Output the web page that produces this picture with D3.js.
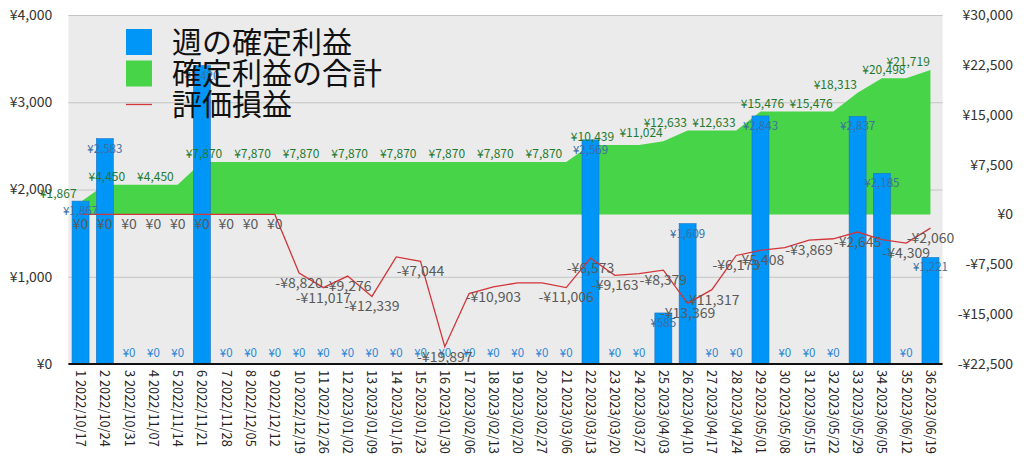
<!DOCTYPE html>
<html><head><meta charset="utf-8">
<script src="https://cdn.jsdelivr.net/npm/d3@7/dist/d3.min.js"></script>
<style>
html,body{margin:0;padding:0;background:#fff;}
text{font-family:"Noto Sans CJK JP","Noto Sans",sans-serif;}
</style></head>
<body><svg id="chart" width="1024" height="476"></svg>
<script>
const weeks = ["1 2022/10/17","2 2022/10/24","3 2022/10/31","4 2022/11/07","5 2022/11/14","6 2022/11/21","7 2022/11/28","8 2022/12/05","9 2022/12/12","10 2022/12/19","11 2022/12/26","12 2023/01/02","13 2023/01/09","14 2023/01/16","15 2023/01/23","16 2023/01/30","17 2023/02/06","18 2023/02/13","19 2023/02/20","20 2023/02/27","21 2023/03/06","22 2023/03/13","23 2023/03/20","24 2023/03/27","25 2023/04/03","26 2023/04/10","27 2023/04/17","28 2023/04/24","29 2023/05/01","30 2023/05/08","31 2023/05/15","32 2023/05/22","33 2023/05/29","34 2023/06/05","35 2023/06/12","36 2023/06/19"];
const weeklyProfit = [1867,2583,0,0,0,3420,0,0,0,0,0,0,0,0,0,0,0,0,0,0,0,2569,0,0,585,1609,0,0,2843,0,0,0,2837,2185,0,1221];
const cumulativeProfit = [1867,4450,4450,4450,4450,7870,7870,7870,7870,7870,7870,7870,7870,7870,7870,7870,7870,7870,7870,7870,7870,10439,10439,10439,11024,12633,12633,12633,15476,15476,15476,15476,18313,20498,20498,21719];
const unrealized = [0,0,0,0,0,0,0,0,0,-8820,-11017,-9276,-12339,-6400,-7044,-19897,-11900,-10903,-10300,-10300,-11006,-6573,-9163,-8900,-8379,-13369,-11317,-6173,-5408,-5000,-3869,-3660,-2645,-3800,-4309,-2060];
const leftTicks = [0,1000,2000,3000,4000];
const rightTicks = [-22500,-15000,-7500,0,7500,15000,22500,30000];
const legendLabels = ["週の確定利益","確定利益の合計","評価損益"];
// cumulative labels: week number (0 = slot before week 1) where each label is shown, and its value
const cumLabelWeeks = [0,2,4,6,8,10,12,14,16,18,20,22,24,25,27,29,31,32,34,35];
const cumLabelValues = [1867,4450,4450,7870,7870,7870,7870,7870,7870,7870,7870,10439,11024,12633,12633,15476,15476,18313,20498,21719];
// weeks whose unrealized value is labelled
const unrealizedLabelWeeks = [1,2,3,4,5,6,7,8,9,10,11,12,13,15,16,18,21,22,23,25,26,27,28,29,31,33,35,36];

const colors = {bar:"#0096f7", barStroke:"#1a74c4", area:"#48d448", line:"#d2353b", bg:"#ebebeb", grid:"#c4c4c4",
  barLabel:"#3a6fa3", areaLabel:"#1f7a30", lineLabel:"#5a5a5a"};

const svg = d3.select("#chart");
const m = {left:68.4, right:1024-942.6, top:15, bottom:476-364};
const W = 1024, H = 476;
const x = d3.scaleBand().domain(weeks).range([m.left, W-m.right]).paddingInner(0.3).paddingOuter(0.15);
const yL = d3.scaleLinear().domain([0,4000]).range([H-m.bottom, m.top]);
const yR = d3.scaleLinear().domain([-22500,30000]).range([H-m.bottom, m.top]);
const cx = i => x(weeks[0]) + x.bandwidth()/2 + (i-1)*x.step(); // i is week number (1-based)
const fmt = v => (v<0?"-":"") + "¥" + d3.format(",")(Math.abs(v));

// background
svg.append("rect").attr("x",m.left).attr("y",m.top).attr("width",W-m.left-m.right).attr("height",H-m.top-m.bottom).attr("fill",colors.bg);
// grid
svg.append("g").selectAll("line").data(leftTicks.filter(d=>d>0)).join("line")
  .attr("x1",m.left).attr("x2",W-m.right).attr("y1",d=>yL(d)+0.5).attr("y2",d=>yL(d)+0.5)
  .attr("stroke",colors.grid).attr("stroke-width",1);

// area
const area = d3.area().x((d,i)=>cx(i+1)).y0(yR(0)).y1(d=>yR(d));
svg.append("path").datum(cumulativeProfit).attr("d",area).attr("fill",colors.area);

// bars
svg.append("g").selectAll("rect").data(weeklyProfit).join("rect")
  .attr("x",(d,i)=>x(weeks[i])).attr("width",x.bandwidth())
  .attr("y",d=>yL(d)).attr("height",d=>yL(0)-yL(d))
  .attr("fill",colors.bar).attr("stroke",d=>d>0?colors.barStroke:"none").attr("stroke-width",0.6);

// line
const line = d3.line().x((d,i)=>cx(i+1)).y(d=>yR(d));
svg.append("path").datum(unrealized).attr("d",line).attr("fill","none").attr("stroke",colors.line).attr("stroke-width",1.3);

// x axis
const xAxis = d3.axisBottom(x).tickSize(0).tickPadding(0);
const gx = svg.append("g").attr("transform",`translate(0,${H-m.bottom})`).call(xAxis);
gx.select(".domain").remove();
gx.selectAll("text").attr("transform","rotate(90)").attr("text-anchor","start").attr("dy","0.35em").attr("x",6).attr("y",0)
  .attr("font-size",12.8).attr("fill","#222").style("font-family",'"Noto Sans CJK JP",sans-serif');
svg.append("line").attr("x1",m.left).attr("x2",W-m.right).attr("y1",H-m.bottom).attr("y2",H-m.bottom).attr("stroke","#111").attr("stroke-width",2);

// left axis
const gl = svg.append("g").attr("transform",`translate(${m.left},0)`)
  .call(d3.axisLeft(yL).tickValues(leftTicks).tickFormat(fmt).tickSize(0).tickPadding(16));
gl.select(".domain").remove();
gl.selectAll("text").attr("font-size",14).attr("fill","#333");
// right axis
const gr = svg.append("g").attr("transform",`translate(1013,0)`)
  .call(d3.axisLeft(yR).tickValues(rightTicks).tickFormat(fmt).tickSize(0).tickPadding(0));
gr.select(".domain").remove();
gr.selectAll("text").attr("font-size",14).attr("fill","#333");

// area labels
svg.append("g").selectAll("text").data(cumLabelValues).join("text")
  .attr("x",(d,i)=>cx(cumLabelWeeks[i])+2).attr("y",d=>yR(d)-8).attr("dy","0.35em")
  .attr("text-anchor","middle").attr("font-size",12).attr("fill",colors.areaLabel).text(fmt);

// bar labels
svg.append("g").selectAll("text").data(weeklyProfit).join("text")
  .attr("x",(d,i)=>cx(i+1)).attr("y",d=>d>0?yL(d)+10:yL(0)-11).attr("dy","0.35em")
  .attr("text-anchor","middle").attr("font-size",11.5).attr("fill",d=>d>0?colors.barLabel:"#2a86d8").text(fmt);

// line labels
svg.append("g").selectAll("text").data(unrealizedLabelWeeks).join("text")
  .attr("x",w=>cx(w)).attr("y",w=>yR(unrealized[w-1])+10).attr("dy","0.35em")
  .attr("text-anchor","middle").attr("font-size",14).attr("fill",colors.lineLabel).text(w=>fmt(unrealized[w-1]));

// legend
const lg = svg.append("g");
const ly = [42,73.5,104.5];
lg.append("rect").attr("x",126).attr("y",ly[0]-13).attr("width",26).attr("height",26).attr("fill",colors.bar);
lg.append("rect").attr("x",126).attr("y",ly[1]-13).attr("width",26).attr("height",26).attr("fill",colors.area);
lg.append("line").attr("x1",126).attr("x2",152).attr("y1",ly[2]).attr("y2",ly[2]).attr("stroke",colors.line).attr("stroke-width",1.3);
lg.selectAll("text").data(legendLabels).join("text")
  .attr("x",172).attr("y",(d,i)=>ly[i]).attr("dy","0.36em").attr("font-size",30).attr("fill","#111").text(d=>d);
</script></body></html>
